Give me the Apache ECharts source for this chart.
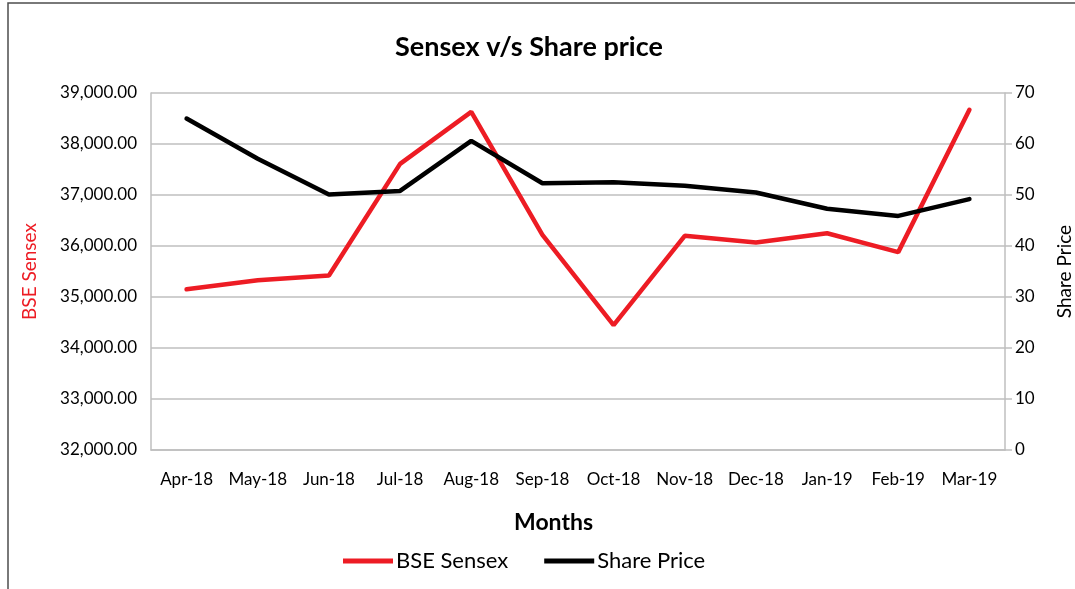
<!DOCTYPE html>
<html>
<head>
<meta charset="utf-8">
<script src="https://cdn.jsdelivr.net/npm/echarts@6/dist/echarts.min.js"></script>
<style>
  html, body { margin: 0; padding: 0; background: #fff; }
  #main { width: 1075px; height: 589px; }
</style>
</head>
<body>
<div id="main"></div>
<script>
// months on the x axis
const months = ['Apr-18', 'May-18', 'Jun-18', 'Jul-18', 'Aug-18', 'Sep-18',
  'Oct-18', 'Nov-18', 'Dec-18', 'Jan-19', 'Feb-19', 'Mar-19']
// BSE Sensex (left axis)
const sensex = [35150, 35330, 35420, 37610, 38630, 36220,
  34450, 36200, 36070, 36250, 35880, 38670]
// share price (right axis)
const sharePrice = [65.0, 57.1, 50.1, 50.8, 60.6, 52.3,
  52.5, 51.8, 50.5, 47.3, 45.9, 49.2]

const font = 'Lato, "Open Sans", sans-serif'
const gridGrey = '#bfbfbf'

const myChart = echarts.init(document.getElementById('main'))

myChart.setOption({
  animation: false,
  textStyle: { fontFamily: font },
  title: [
    {
      text: 'Sensex v/s Share price',
      left: 390,
      top: 29,
      textStyle: { fontSize: 27, fontWeight: 'bold', color: '#000', fontFamily: font }
    },
    {
      text: 'Months',
      left: 509,
      top: 506,
      textStyle: { fontSize: 23, fontWeight: 'bold', color: '#000', fontFamily: font }
    }
  ],
  legend: {
    data: ['BSE Sensex', 'Share Price'],
    left: 338,
    top: 545,
    icon: 'rect',
    itemWidth: 50,
    itemHeight: 5,
    itemGap: 36,
    textStyle: { fontSize: 22, color: '#000', fontFamily: font, padding: [0, 0, 0, -2] }
  },
  graphic: [
    {
      type: 'rect',
      shape: { x: 8, y: 3, width: 1200, height: 700 },
      style: { fill: 'none', stroke: '#4d4d4d', lineWidth: 1.5 },
      silent: true
    }
  ],
  grid: {
    left: 151,
    right: 70,
    top: 93,
    bottom: 139,
    containLabel: false,
    outerBoundsMode: 'none'
  },
  xAxis: {
    type: 'category',
    data: months,
    boundaryGap: true,
    axisLine: { show: true, lineStyle: { color: gridGrey, width: 1.5 } },
    axisTick: { show: false },
    axisLabel: { fontSize: 17, color: '#000', margin: 21, interval: 0 }
  },
  yAxis: [
    {
      type: 'value',
      min: 32000,
      max: 39000,
      interval: 1000,
      position: 'left',
      name: 'BSE Sensex',
      nameLocation: 'middle',
      nameGap: 112,
      nameTextStyle: { color: '#ed1c24', fontSize: 19 },
      axisLine: { show: true, lineStyle: { color: gridGrey, width: 1.5 } },
      axisTick: { show: false },
      splitLine: { show: true, lineStyle: { color: gridGrey, width: 1.5 } },
      axisLabel: {
        fontSize: 17,
        color: '#000',
        margin: 14,
        formatter: function(v) {
          return v.toLocaleString('en-US', { minimumFractionDigits: 2, maximumFractionDigits: 2 })
        }
      }
    },
    {
      type: 'value',
      min: 0,
      max: 70,
      interval: 10,
      position: 'right',
      name: 'Share Price',
      nameLocation: 'middle',
      nameGap: 50,
      nameTextStyle: { color: '#000', fontSize: 19 },
      axisLine: { show: true, lineStyle: { color: gridGrey, width: 1.5 } },
      axisTick: { show: true, length: 7, lineStyle: { color: gridGrey, width: 1.5 } },
      splitLine: { show: false },
      axisLabel: { fontSize: 17, color: '#000', margin: 10 }
    }
  ],
  series: [
    {
      name: 'BSE Sensex',
      type: 'line',
      yAxisIndex: 0,
      data: sensex,
      symbol: 'none',
      color: '#ed1c24',
      lineStyle: { width: 4.5, color: '#ed1c24', cap: 'round' }
    },
    {
      name: 'Share Price',
      type: 'line',
      yAxisIndex: 1,
      data: sharePrice,
      symbol: 'none',
      color: '#000',
      lineStyle: { width: 4.5, color: '#000', cap: 'round' }
    }
  ]
})
</script>
</body>
</html>
